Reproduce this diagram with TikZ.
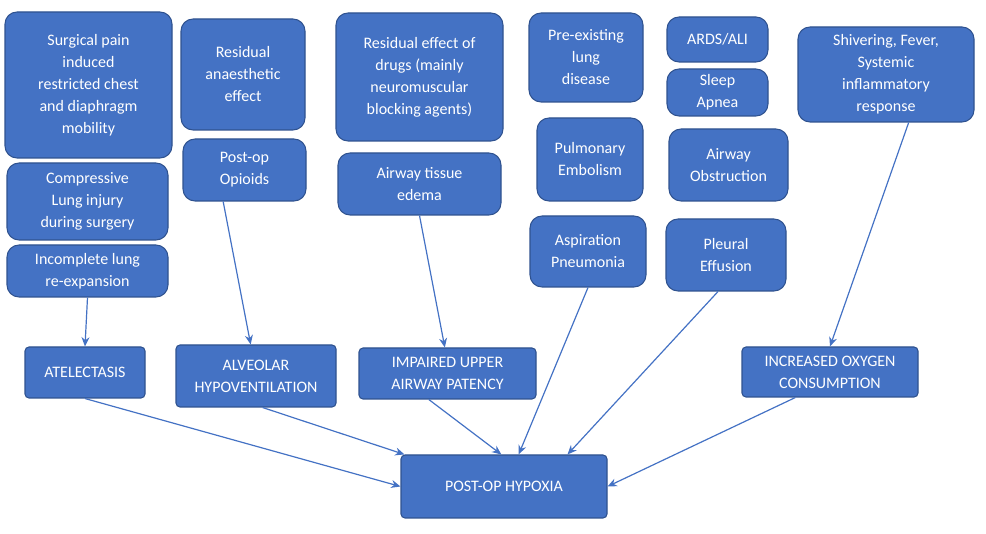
\documentclass[tikz,border=0pt]{standalone}
\usepackage{fontspec}
\setmainfont{Carlito}
\usetikzlibrary{arrows.meta}
\definecolor{boxfill}{HTML}{4472C4}
\definecolor{boxline}{HTML}{2F528F}
\tikzset{
  box/.style={draw=boxline,fill=boxfill,text=white,rounded corners=9pt,line width=0.8pt,
    align=center,font=\fontsize{12pt}{16.5pt}\selectfont,inner sep=0pt},
  cause/.style={box,rounded corners=3pt},
  arr/.style={-{Stealth[length=7pt,width=6pt]},boxfill,line width=0.9pt},
}
\newcommand{\bx}[6]{% name, style, x1, y1, x2, y2, then the text
  \node[#2,minimum width={(#5-#3)*0.75pt},minimum height={(#6-#4)*0.75pt}] (#1) at ({(#3+#5)/2},{(#4+#6)/2})}
\begin{document}
\begin{tikzpicture}[x=0.75pt,y=-0.75pt]
  \useasboundingbox (0,0) rectangle (986,534);
  % factors
  \bx{pain}{box}{5}{12}{172}{158}{Surgical pain\\induced\\restricted chest\\and diaphragm\\mobility};
  \bx{compress}{box}{7}{163}{168}{240}{Compressive\\Lung injury\\during surgery};
  \bx{reexp}{box}{7}{245}{168}{297}{Incomplete lung\\re-expansion};
  \bx{anaes}{box}{181}{19}{305}{130}{Residual\\anaesthetic\\effect};
  \bx{opioid}{box}{183}{139}{306}{201}{Post-op\\Opioids};
  \bx{drugs}{box}{336}{13}{503}{141}{Residual effect of\\drugs (mainly\\neuromuscular\\blocking agents)};
  \bx{edema}{box}{338}{153}{501}{215}{Airway tissue\\edema};
  \bx{lungdis}{box}{529}{13}{643}{102}{Pre-existing\\lung\\disease};
  \bx{ards}{box}{667}{17}{768}{62}{ARDS/ALI};
  \bx{apnea}{box}{667}{69}{768}{116}{Sleep\\Apnea};
  \bx{embol}{box}{537}{118}{643}{201}{Pulmonary\\Embolism};
  \bx{obstr}{box}{669}{129}{788}{201}{Airway\\Obstruction};
  \bx{aspir}{box}{530}{216}{646}{287}{Aspiration\\Pneumonia};
  \bx{pleural}{box}{666}{219}{786}{291}{Pleural\\Effusion};
  \bx{shiver}{box}{798}{27}{974}{122}{Shivering, Fever,\\Systemic\\inflammatory\\response};
  % mechanisms
  \bx{atel}{cause}{25}{347}{145}{398}{ATELECTASIS};
  \bx{hypovent}{cause}{176}{345}{336}{407}{ALVEOLAR\\HYPOVENTILATION};
  \bx{airway}{cause}{359}{348}{536}{399}{IMPAIRED UPPER\\AIRWAY PATENCY};
  \bx{oxygen}{cause}{742}{347}{918}{397}{INCREASED OXYGEN\\CONSUMPTION};
  \bx{hypoxia}{cause}{401}{455}{607}{518}{POST-OP HYPOXIA};
  % arrows
  \draw[arr] (reexp.south) -- (atel.north);
  \draw[arr] ([xshift=-16pt]opioid.south) -- ([xshift=-4pt]hypovent.north);
  \draw[arr] (edema.south) -- ([xshift=-2pt]airway.north);
  \draw[arr] ([xshift=17pt]shiver.south) -- (oxygen.north);
  \draw[arr] (atel.south) -- (hypoxia.west);
  \draw[arr] ([xshift=5pt]hypovent.south) -- ([xshift=3pt]hypoxia.north west);
  \draw[arr] ([xshift=-14pt]airway.south) -- ([xshift=-2pt]hypoxia.north);
  \draw[arr] (aspir.south) -- ([xshift=11pt]hypoxia.north);
  \draw[arr] ([xshift=-6pt]pleural.south) -- ([xshift=-30pt]hypoxia.north east);
  \draw[arr] ([xshift=-26pt]oxygen.south) -- (hypoxia.east);
\end{tikzpicture}
\end{document}
